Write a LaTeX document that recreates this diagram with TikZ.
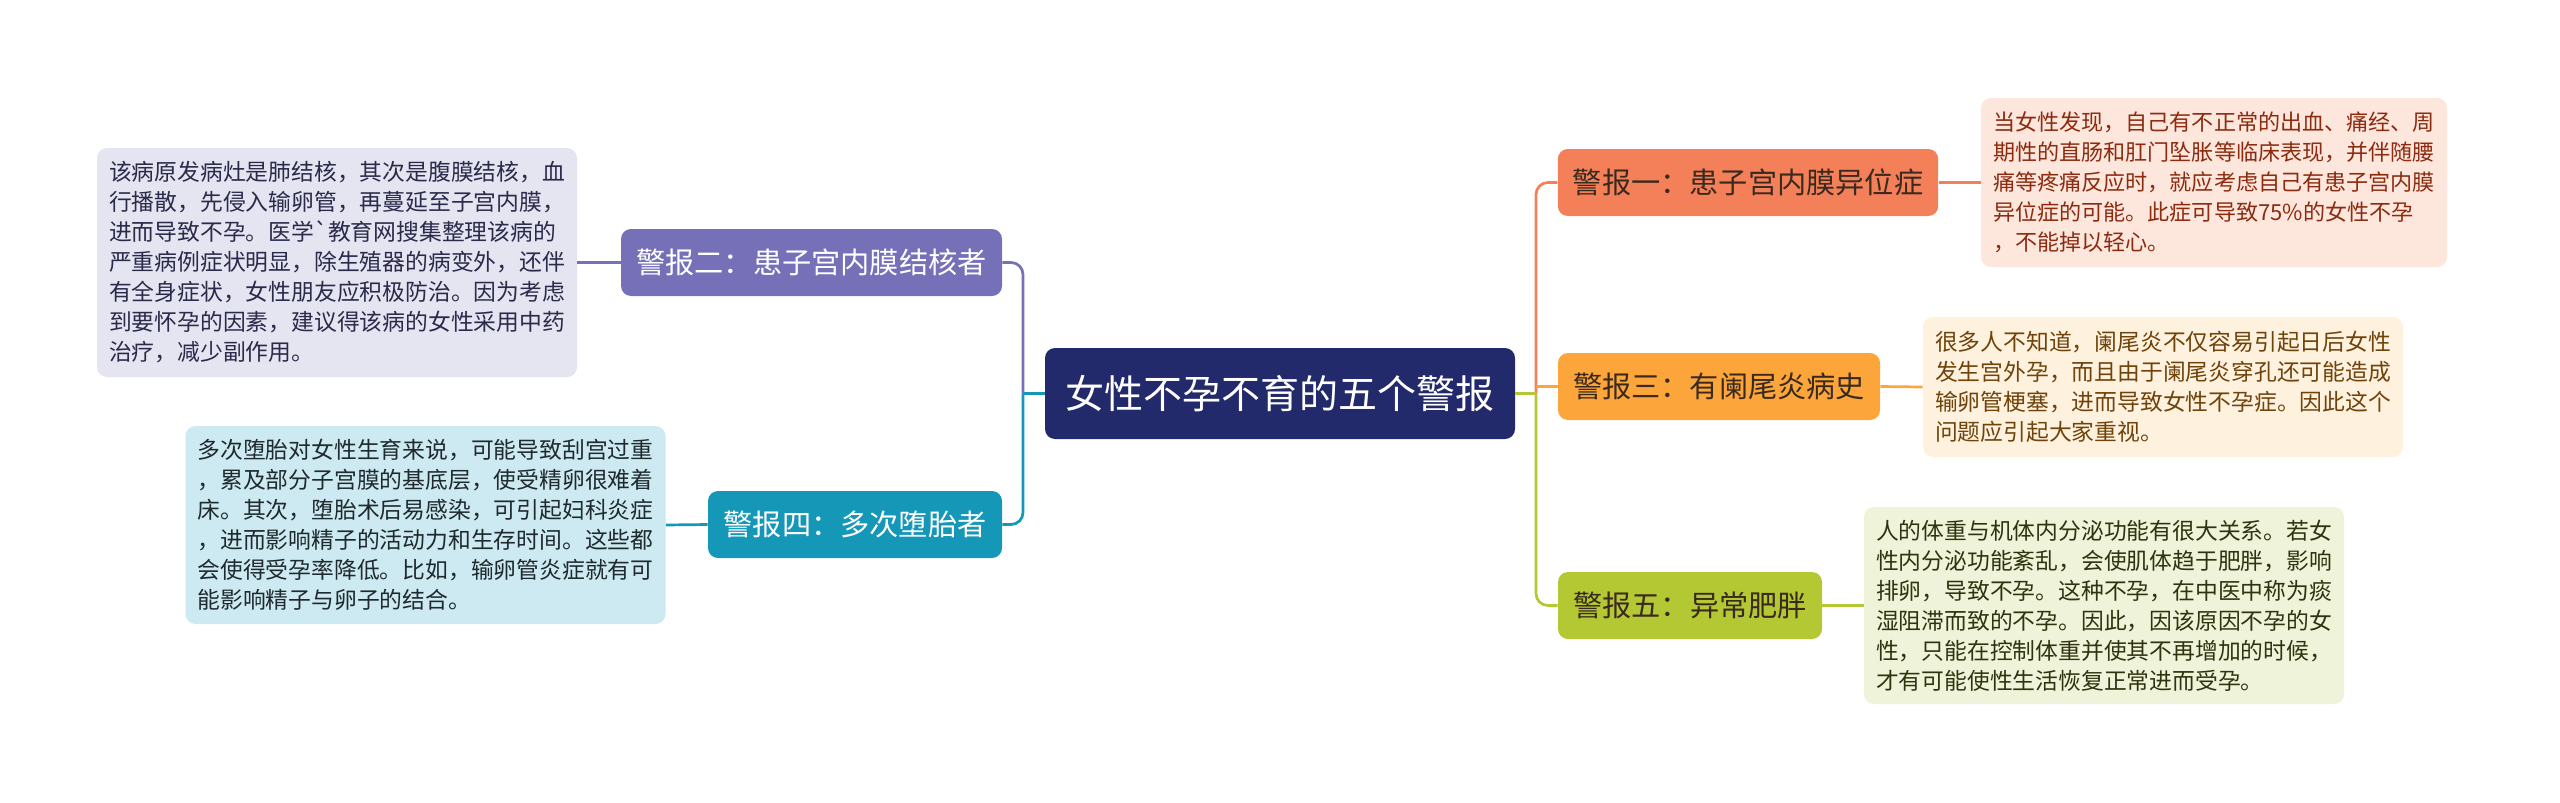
\documentclass[tikz,border=0pt]{standalone}
\usepackage{fontspec}
\setmainfont{Noto Sans CJK SC}[Ligatures=TeXOff]
\definecolor{cnavy}{HTML}{232A6B}
\definecolor{cpurple}{HTML}{7570B8}
\definecolor{lpurple}{HTML}{E5E4F1}
\definecolor{tpurple}{HTML}{2A2A4A}
\definecolor{cteal}{HTML}{1597B7}
\definecolor{lteal}{HTML}{CDE9F1}
\definecolor{tteal}{HTML}{1E2A2E}
\definecolor{ccoral}{HTML}{F4805A}
\definecolor{lcoral}{HTML}{FDE6DC}
\definecolor{tcoral}{HTML}{8C2B10}
\definecolor{corange}{HTML}{FBA53A}
\definecolor{lorange}{HTML}{FEF1DD}
\definecolor{torange}{HTML}{6F430B}
\definecolor{cgreen}{HTML}{B4C834}
\definecolor{lgreen}{HTML}{EFF3D9}
\definecolor{tgreen}{HTML}{30330F}
\definecolor{tdark}{HTML}{3A2A1E}
\tikzset{
  leafbox/.style={rounded corners=5pt, inner xsep=6pt, inner ysep=0pt, align=left,
    font=\fontsize{11.4}{15}\selectfont},
  branchbox/.style={rounded corners=5pt, inner xsep=7.5pt, inner ysep=0pt, minimum height=33.5pt,
    font=\fontsize{14.6}{17}\selectfont},
  rootbox/.style={rounded corners=5pt, fill=cnavy, text=white, inner xsep=10pt,
    minimum width=235pt, minimum height=45.5pt, font=\fontsize{19.5}{22}\selectfont},
  conn/.style={line width=1.35pt},
}
\begin{document}
\begin{tikzpicture}[x=0.5pt,y=-0.5pt]
\useasboundingbox[fill=white] (0,0) rectangle (2560,803);

\node[rootbox] (root) at (1280,393.5) {女性不孕不育的五个警报};

\node[branchbox, fill=cpurple, text=white, minimum width=190.5pt] (b2) at (811.5,262.5) {警报二：患子宫内膜结核者};
\node[branchbox, fill=cteal, text=white, minimum width=147pt] (b4) at (855,524.5) {警报四：多次堕胎者};
\node[branchbox, fill=ccoral, text=tdark, minimum width=190pt] (b1) at (1748,182.5) {警报一：患子宫内膜异位症};
\node[branchbox, fill=corange, text=tdark, minimum width=161pt] (b3) at (1719,386.5) {警报三：有阑尾炎病史};
\node[branchbox, fill=cgreen, text=tdark, minimum width=132pt] (b5) at (1690,605.5) {警报五：异常肥胖};

\node[leafbox, fill=lpurple, text=tpurple, minimum width=240pt, minimum height=114.5pt] (l2) at (337,262.5) {该病原发病灶是肺结核，其次是腹膜结核，血\\行播散，先侵入输卵管，再蔓延至子宫内膜，\\进而导致不孕。医学`教育网搜集整理该病的\\严重病例症状明显，除生殖器的病变外，还伴\\有全身症状，女性朋友应积极防治。因为考虑\\到要怀孕的因素，建议得该病的女性采用中药\\治疗，减少副作用。};
\node[leafbox, fill=lteal, text=tteal, minimum width=239.5pt, minimum height=99pt] (l4) at (425.5,525) {多次堕胎对女性生育来说，可能导致刮宫过重\\，累及部分子宫膜的基底层，使受精卵很难着\\床。其次，堕胎术后易感染，可引起妇科炎症\\，进而影响精子的活动力和生存时间。这些都\\会使得受孕率降低。比如，输卵管炎症就有可\\能影响精子与卵子的结合。};
\node[leafbox, fill=lcoral, text=tcoral, minimum width=232pt, minimum height=84.5pt, font=\fontsize{11.05}{15}\selectfont] (l1) at (2214,182.5) {当女性发现，自己有不正常的出血、痛经、周\\期性的直肠和肛门坠胀等临床表现，并伴随腰\\痛等疼痛反应时，就应考虑自己有患子宫内膜\\异位症的可能。此症可导致75\%的女性不孕\\，不能掉以轻心。};
\node[leafbox, fill=lorange, text=torange, minimum width=240pt, minimum height=70pt] (l3) at (2163,387) {很多人不知道，阑尾炎不仅容易引起日后女性\\发生宫外孕，而且由于阑尾炎穿孔还可能造成\\输卵管梗塞，进而导致女性不孕症。因此这个\\问题应引起大家重视。};
\node[leafbox, fill=lgreen, text=tgreen, minimum width=239pt, minimum height=98.5pt] (l5) at (2104,605.5) {人的体重与机体内分泌功能有很大关系。若女\\性内分泌功能紊乱，会使肌体趋于肥胖，影响\\排卵，导致不孕。这种不孕，在中医中称为痰\\湿阻滞而致的不孕。因此，因该原因不孕的女\\性，只能在控制体重并使其不再增加的时候，\\才有可能使性生活恢复正常进而受孕。};

\coordinate (jL) at (1023,393.5);
\coordinate (jR) at (1536,393.5);

\draw[conn, cpurple, rounded corners=6pt] (b2.east) -| (jL);
\draw[conn, cteal, rounded corners=6pt] (b4.east) -| (jL);
\draw[conn, cteal] (jL) -- (root.west);
\draw[conn, ccoral, rounded corners=6pt] (b1.west) -| (jR);
\draw[conn, corange] (b3.west) -- (b3.west -| jR);
\draw[conn, cgreen, rounded corners=6pt] (b5.west) -| (jR);
\draw[conn, cgreen] (root.east) -- (jR);

\draw[conn, cpurple] (l2.east) -- (b2.west);
\draw[conn, cteal] (l4.east) -- (b4.west);
\draw[conn, ccoral] (b1.east) -- (l1.west);
\draw[conn, corange] (b3.east) -- (l3.west);
\draw[conn, cgreen] (b5.east) -- (l5.west);
\end{tikzpicture}
\end{document}
